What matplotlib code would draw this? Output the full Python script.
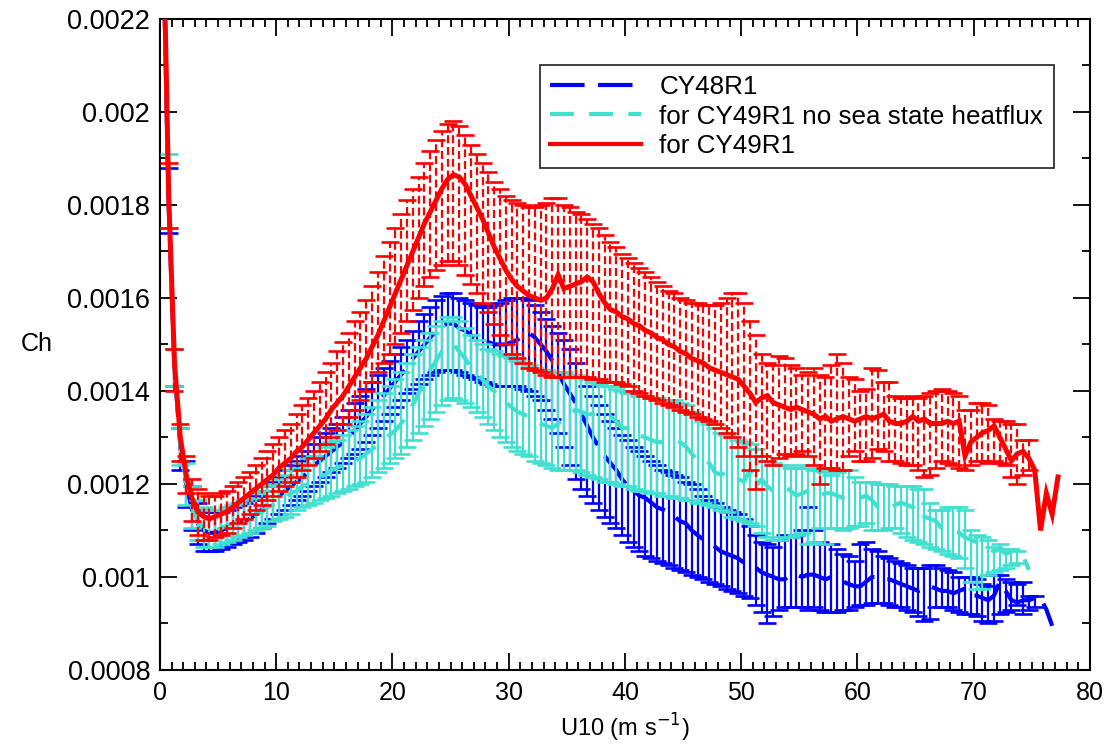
import numpy as np
import matplotlib
matplotlib.use("Agg")
import matplotlib.pyplot as plt
from matplotlib.lines import Line2D
from matplotlib.ticker import MultipleLocator, FuncFormatter

plt.rcParams['font.family'] = ['Liberation Sans', 'DejaVu Sans']

# Bin centres of 10 m wind speed (m/s), 0.5 m/s bins
u10 = 0.25 + 0.5 * np.arange(155)

# Heat exchange coefficient Ch, in units of 1e-4 (mean and lower/upper bar limits)
ch48 = [24.0, 18.0, 14.5, 12.8, 12.0, 11.45, 11.15, 11.0, 10.95, 10.95,
        11.0, 11.05, 11.1, 11.15, 11.2, 11.25, 11.35, 11.45, 11.55, 11.65,
        11.75, 11.85, 11.95, 12.05, 12.15, 12.25, 12.4, 12.5, 12.6, 12.7,
        12.8, 12.9, 13.0, 13.15, 13.3, 13.45, 13.6, 13.75, 13.9, 14.05,
        14.2, 14.35, 14.5, 14.7, 14.85, 15.0, 15.15, 15.3, 15.4, 15.45,
        15.45, 15.35, 15.3, 15.2, 15.1, 15.05, 15.05, 15.0, 15.0, 15.0,
        15.05, 15.1, 15.2, 15.25, 15.15, 15.0, 14.85, 14.65, 14.4, 14.15,
        13.95, 13.75, 13.5, 13.25, 13.0, 12.8, 12.6, 12.45, 12.3, 12.1,
        11.95, 11.85, 11.75, 11.7, 11.6, 11.5, 11.45, 11.4, 11.3, 11.2,
        11.15, 11.0, 10.9, 10.8, 10.7, 10.65, 10.55, 10.5, 10.45, 10.4,
        10.3, 10.25, 10.2, 10.1, 10.05, 10.0, 9.95, 9.95, 10.05, 10.05,
        10.0, 10.05, 10.05, 10.0, 9.95, 10.0, 9.95, 9.9, 9.85, 9.8,
        9.8, 9.9, 10.0, 10.0, 9.95, 9.95, 9.9, 9.85, 9.8, 9.75,
        9.7, 9.75, 9.8, 9.75, 9.7, 9.7, 9.65, 9.7, 9.75, 9.6,
        9.6, 9.55, 9.5, 9.6, 9.9, 9.7, 9.5, 9.45, 9.5, 9.5,
        9.55, 9.55, 9.3, 8.95]
ch48_lo = [23.0, 17.4, 14.1, 12.3, 11.5, 11.0, 10.7, 10.55, 10.55, 10.55,
           10.6, 10.65, 10.7, 10.75, 10.8, 10.85, 10.95, 11.05, 11.15, 11.25,
           11.35, 11.45, 11.55, 11.65, 11.75, 11.85, 11.95, 12.05, 12.15, 12.25,
           12.35, 12.45, 12.55, 12.65, 12.75, 12.9, 13.05, 13.2, 13.35, 13.5,
           13.65, 13.8, 13.95, 14.05, 14.15, 14.25, 14.35, 14.4, 14.45, 14.45,
           14.45, 14.4, 14.35, 14.3, 14.25, 14.2, 14.15, 14.1, 14.1, 14.1,
           14.1, 14.1, 14.05, 14.0, 13.9, 13.8, 13.6, 13.4, 13.1, 12.8,
           12.4, 12.1, 11.9, 11.75, 11.6, 11.45, 11.3, 11.15, 11.05, 10.9,
           10.75, 10.65, 10.55, 10.45, 10.4, 10.35, 10.3, 10.25, 10.2, 10.15,
           10.1, 10.05, 10.0, 9.95, 9.9, 9.85, 9.8, 9.75, 9.7, 9.65,
           9.6, 9.55, 9.4, 9.25, 9.0, 9.15, 9.3, 9.35, 9.35, 9.35,
           9.35, 9.3, 9.35, 9.3, 9.25, 9.25, 9.25, 9.3, 9.3, 9.35,
           9.4, 9.4, 9.45, 9.45, 9.45, 9.4, 9.35, 9.35, 9.3, 9.25,
           9.15, 9.05, 9.1, 9.35, 9.35, 9.35, 9.3, 9.25, 9.2, 9.2,
           9.15, 9.05, 9.0, 9.05, 9.2, 9.25, 9.3, 9.4, 9.2, 9.3,
           9.35, None, None, None]
ch48_hi = [25.0, 18.8, 14.9, 13.2, 12.5, 11.95, 11.6, 11.45, 11.4, 11.4,
           11.4, 11.45, 11.5, 11.55, 11.6, 11.65, 11.75, 11.85, 11.95, 12.05,
           12.15, 12.3, 12.4, 12.5, 12.6, 12.7, 12.85, 13.0, 13.1, 13.2,
           13.3, 13.45, 13.6, 13.75, 13.9, 14.05, 14.2, 14.35, 14.5, 14.65,
           14.8, 14.95, 15.1, 15.3, 15.5, 15.65, 15.8, 15.95, 16.05, 16.1,
           16.1, 16.0, 15.95, 15.9, 15.85, 15.8, 15.8, 15.85, 15.9, 15.95,
           16.0, 16.0, 16.0, 15.95, 15.85, 15.7, 15.55, 15.4, 15.25, 15.1,
           14.9, 14.6, 14.3, 14.1, 13.9, 13.7, 13.5, 13.35, 13.2, 13.05,
           12.95, 12.8, 12.7, 12.6, 12.5, 12.4, 12.3, 12.25, 12.2, 12.15,
           12.05, 12.0, 11.9, 11.75, 11.65, 11.6, 11.5, 11.45, 11.4, 11.35,
           11.25, 11.1, 10.9, 10.75, 10.7, 10.65, 10.8, 10.9, 10.85, 10.9,
           11.0, 11.5, 11.0, 10.75, 10.7, 10.7, 10.6, 10.5, 10.45, 10.35,
           10.7, 10.75, 10.6, 10.55, 10.45, 10.4, 10.35, 10.3, 10.25, 10.2,
           10.2, 10.2, 10.25, 10.25, 10.2, 10.15, 10.1, 10.0, 10.0, 10.0,
           9.95, 9.85, 9.8, 10.05, 10.05, 9.95, 9.9, 9.85, 9.9, 9.6,
           9.6, None, None, None]

ch49_nows = [24.0, 18.1, 14.55, 12.85, 12.05, 11.5, 11.2, 11.05, 11.0, 11.0,
             11.05, 11.1, 11.15, 11.2, 11.25, 11.3, 11.35, 11.4, 11.5, 11.55,
             11.65, 11.7, 11.8, 11.85, 11.95, 12.0, 12.05, 12.15, 12.2, 12.3,
             12.35, 12.4, 12.45, 12.5, 12.55, 12.65, 12.75, 12.85, 12.95, 13.05,
             13.15, 13.3, 13.5, 13.7, 13.95, 14.2, 14.45, 14.65, 14.85, 14.95,
             15.0, 14.85, 14.7, 14.5, 14.35, 14.25, 14.1, 14.0, 13.85, 13.75,
             13.65, 13.55, 13.5, 13.45, 13.4, 13.3, 13.25, 13.2, 13.3, 13.4,
             13.5, 13.6, 13.55, 13.5, 13.5, 13.45, 13.4, 13.45, 13.35, 13.2,
             13.2, 13.15, 13.05, 13.0, 12.95, 12.9, 12.9, 12.9, 12.85, 12.9,
             12.8, 12.65, 12.5, 12.55, 12.45, 12.25, 12.2, 12.25, 12.15, 12.1,
             12.05, 12.3, 11.95, 12.1, 11.95, 11.85, 11.9, 11.95, 11.85, 11.75,
             11.8, 11.85, 11.8, 11.75, 11.8, 11.8, 11.75, 11.7, 11.7, 11.7,
             11.7, 11.75, 11.65, 11.5, 11.55, 11.5, 11.55, 11.6, 11.55, 11.5,
             11.55, 11.3, 11.25, 11.2, 11.05, 11.0, 11.0, 10.95, 10.85, 10.8,
             10.75, 10.7, 10.6, 10.55, 10.6, 10.5, 10.55, 10.5, 10.45, 10.15]
ch49_nows_lo = [23.0, 17.5, 14.1, 12.4, 11.55, 11.05, 10.8, 10.65, 10.65, 10.65,
                10.7, 10.75, 10.8, 10.85, 10.9, 10.95, 11.0, 11.05, 11.1, 11.2,
                11.25, 11.3, 11.35, 11.45, 11.5, 11.55, 11.6, 11.65, 11.7, 11.75,
                11.8, 11.85, 11.9, 11.95, 12.0, 12.05, 12.15, 12.25, 12.35, 12.45,
                12.55, 12.65, 12.8, 12.95, 13.1, 13.25, 13.4, 13.55, 13.7, 13.8,
                13.85, 13.8, 13.75, 13.65, 13.55, 13.45, 13.3, 13.15, 13.0, 12.9,
                12.8, 12.7, 12.65, 12.6, 12.5, 12.45, 12.4, 12.35, 12.3, 12.3,
                12.3, 12.3, 12.25, 12.2, 12.15, 12.1, 12.05, 12.05, 12.0, 11.95,
                11.95, 11.9, 11.85, 11.85, 11.8, 11.8, 11.75, 11.75, 11.7, 11.7,
                11.65, 11.65, 11.6, 11.6, 11.55, 11.5, 11.45, 11.4, 11.3, 11.25,
                11.2, 11.15, 11.1, 10.95, 10.85, 10.8, 10.8, 10.85, 10.85, 10.9,
                10.95, 10.7, 10.75, 11.05, 10.7, 11.05, 11.05, 11.0, 11.05, 11.1,
                11.1, 11.15, 11.0, 11.0, 11.0, 11.05, 11.05, 10.95, 10.85, 10.8,
                10.75, 10.7, 10.65, 10.6, 10.55, 10.5, 10.45, 10.4, 10.2, 9.9,
                9.75, 9.75, 10.05, 10.1, 10.15, 10.2, 10.25, 10.3, None, None]
ch49_nows_hi = [25.0, 19.1, 14.9, 13.2, 12.45, 11.95, 11.65, 11.5, 11.45, 11.45,
                11.45, 11.5, 11.55, 11.6, 11.65, 11.7, 11.8, 11.85, 11.95, 12.0,
                12.1, 12.2, 12.3, 12.35, 12.45, 12.55, 12.6, 12.7, 12.8, 12.9,
                12.95, 13.05, 13.15, 13.25, 13.35, 13.5, 13.65, 13.8, 13.95, 14.1,
                14.25, 14.4, 14.6, 14.8, 14.95, 15.1, 15.25, 15.4, 15.5, 15.6,
                15.6, 15.5, 15.35, 15.2, 15.1, 15.0, 14.9, 14.85, 14.8, 14.75,
                14.7, 14.65, 14.6, 14.55, 14.5, 14.45, 14.45, 14.4, 14.4, 14.4,
                14.35, 14.35, 14.3, 14.25, 14.2, 14.15, 14.1, 14.1, 14.05, 14.0,
                13.95, 13.95, 13.9, 13.9, 13.85, 13.85, 13.8, 13.8, 13.8, 13.75,
                13.7, 13.55, 13.45, 13.35, 13.3, 13.2, 13.1, 13.05, 13.0, 12.95,
                12.9, 12.85, 12.75, 12.6, 12.5, 12.45, 12.4, 12.4, 12.35, 12.35,
                12.4, 12.35, 12.3, 12.3, 12.25, 12.2, 12.25, 12.3, 12.3, 12.15,
                12.05, 12.05, 12.05, 12.0, 12.0, 12.0, 11.95, 11.95, 11.95, 11.95,
                11.9, 11.9, 11.6, 11.45, 11.45, 11.5, 11.5, 11.5, 11.45, 11.0,
                10.9, 10.85, 10.8, 10.65, 10.7, 10.6, 10.6, 10.55, None, None]

ch49 = [24.5, 18.2, 14.6, 13.0, 12.2, 11.7, 11.4, 11.3, 11.25, 11.3,
        11.35, 11.4, 11.5, 11.6, 11.7, 11.8, 11.9, 12.0, 12.1, 12.2,
        12.35, 12.45, 12.55, 12.7, 12.8, 12.95, 13.1, 13.25, 13.4, 13.6,
        13.75, 13.9, 14.1, 14.3, 14.5, 14.7, 14.95, 15.2, 15.5, 15.8,
        16.1, 16.4, 16.7, 17.0, 17.3, 17.6, 17.85, 18.1, 18.35, 18.55,
        18.65, 18.6, 18.45, 18.2, 17.95, 17.7, 17.4, 17.1, 16.85, 16.6,
        16.4, 16.25, 16.15, 16.05, 16.0, 15.95, 16.0, 16.2, 16.5, 16.2,
        16.25, 16.3, 16.35, 16.45, 16.35, 16.1, 15.9, 15.75, 15.7, 15.6,
        15.55, 15.45, 15.4, 15.3, 15.25, 15.15, 15.1, 15.0, 14.95, 14.85,
        14.8, 14.7, 14.65, 14.6, 14.5, 14.45, 14.4, 14.35, 14.3, 14.25,
        14.1, 13.95, 13.75, 13.85, 13.9, 13.75, 13.7, 13.65, 13.6, 13.65,
        13.6, 13.55, 13.5, 13.4, 13.45, 13.35, 13.4, 13.45, 13.4, 13.35,
        13.4, 13.45, 13.4, 13.45, 13.5, 13.35, 13.3, 13.3, 13.35, 13.45,
        13.35, 13.4, 13.3, 13.3, 13.3, 13.35, 13.3, 13.35, 12.6, 12.9,
        13.0, 13.1, 13.15, 13.25, 13.0, 12.75, 12.5, 12.65, 12.7, 12.55,
        12.3, 11.0, 11.8, 11.35, 12.15]
ch49_lo = [23.0, 17.5, 14.0, 12.5, 11.8, 11.2, 10.9, 10.8, 10.8, 10.85,
           10.9, 10.95, 11.05, 11.15, 11.25, 11.35, 11.45, 11.55, 11.65, 11.75,
           11.85, 11.95, 12.05, 12.15, 12.3, 12.4, 12.55, 12.7, 12.85, 13.0,
           13.15, 13.3, 13.45, 13.6, 13.8, 14.0, 14.2, 14.4, 14.6, 14.8,
           15.0, 15.25, 15.5, 15.75, 16.0, 16.25, 16.45, 16.6, 16.7, 16.8,
           16.8, 16.7, 16.5, 16.3, 16.1, 15.9, 15.7, 15.45, 15.2, 15.0,
           14.8, 14.7, 14.6, 14.5, 14.45, 14.4, 14.35, 14.3, 14.3, 14.3,
           14.3, 14.3, 14.3, 14.3, 14.25, 14.25, 14.2, 14.2, 14.2, 14.15,
           14.1, 14.0, 13.95, 13.9, 13.85, 13.8, 13.75, 13.7, 13.65, 13.6,
           13.55, 13.5, 13.45, 13.4, 13.35, 13.3, 13.2, 13.1, 13.0, 12.8,
           12.6, 12.3, 11.9, 12.6, 12.5, 12.4, 12.55, 12.65, 12.6, 12.65,
           12.7, 12.6, 12.4, 12.0, 12.35, 12.35, 12.3, 12.3, 12.6, 12.7,
           12.5, 12.5, 12.55, 12.75, 12.7, 12.5, 12.5, 12.45, 12.4, 12.4,
           12.3, 12.15, 12.2, 12.35, 12.5, 12.45, 12.4, 12.35, 12.3, 12.4,
           12.5, 12.5, 12.45, 12.5, 12.45, 12.4, 12.15, 12.0, 12.2, 12.3,
           None, None, None, None, None]
ch49_hi = [26.0, 18.9, 14.9, 13.3, 12.6, 12.1, 11.9, 11.8, 11.75, 11.75,
           11.8, 11.85, 11.95, 12.05, 12.15, 12.25, 12.4, 12.55, 12.7, 12.85,
           13.0, 13.15, 13.3, 13.5, 13.7, 13.85, 14.0, 14.2, 14.4, 14.6,
           14.85, 15.05, 15.25, 15.5, 15.7, 15.95, 16.25, 16.55, 16.9, 17.2,
           17.5, 17.8, 18.1, 18.35, 18.6, 18.9, 19.15, 19.4, 19.6, 19.75,
           19.8, 19.7, 19.5, 19.3, 19.1, 18.9, 18.7, 18.5, 18.35, 18.2,
           18.1, 18.05, 18.0, 17.95, 17.95, 18.0, 18.05, 18.15, 18.15, 18.0,
           17.95, 17.85, 17.8, 17.7, 17.6, 17.5, 17.35, 17.2, 17.1, 16.95,
           16.85, 16.75, 16.65, 16.55, 16.45, 16.35, 16.25, 16.15, 16.1, 16.0,
           15.95, 15.9, 15.9, 15.85, 15.85, 15.85, 15.9, 16.0, 16.1, 16.1,
           15.9, 15.5, 15.2, 14.8, 14.6, 14.55, 14.75, 14.7, 14.55, 14.5,
           14.35, 14.4, 14.5, 14.35, 14.3, 14.55, 14.8, 14.6, 14.3, 14.25,
           14.0, 14.05, 14.5, 14.45, 14.2, 14.2, 13.9, 13.85, 13.85, 13.9,
           13.85, 13.9, 13.95, 14.0, 14.05, 14.0, 13.95, 13.9, 13.6, 13.6,
           13.75, 13.75, 13.7, 13.4, 13.35, 13.35, 13.3, 13.3, 12.95, 12.95,
           None, None, None, None, None]

series = [
    ("CY48R1", ch48, ch48_lo, ch48_hi, "#0000ff", (0, (8.3, 3.2)), "solid", 3.0),
    ("for CY49R1 no sea state heatflux", ch49_nows, ch49_nows_lo, ch49_nows_hi,
     "#40e0d0", (0, (5.7, 3.7)), "solid", 3.0),
    ("for CY49R1", ch49, ch49_lo, ch49_hi, "#ff0000", "solid", (0, (3.6, 1.7)), 3.6),
]

fig = plt.figure(figsize=(11.07, 7.44), dpi=100)
ax = fig.add_axes([0.1445, 0.0995, 0.8401, 0.875])

scale = 1e-4
z = 2
handles = []
for label, mean, lo, hi, color, lstyle, barstyle, lw in series:
    n = len(mean)
    x = u10[:n]
    y = np.asarray(mean, dtype=float) * scale
    lo_a = np.array([np.nan if v is None else v for v in lo]) * scale
    hi_a = np.array([np.nan if v is None else v for v in hi]) * scale
    m = np.isfinite(lo_a) & np.isfinite(hi_a)
    eb = ax.errorbar(x[m], y[m], yerr=[y[m] - lo_a[m], hi_a[m] - y[m]],
                     fmt='none', ecolor=color, elinewidth=1.6, capsize=6.8,
                     capthick=1.9, zorder=z)
    if barstyle != "solid":
        for col in eb.lines[2]:
            col.set_linestyle(barstyle)
    ax.plot(x, y, color=color, lw=lw, linestyle=lstyle, zorder=z + 1,
            solid_joinstyle='miter', dash_capstyle='butt')
    handles.append(Line2D([], [], color=color, lw=3.0, linestyle=lstyle))
    z += 2

ax.set_xlim(0, 80)
ax.set_ylim(0.0008, 0.0022)
ax.xaxis.set_major_locator(MultipleLocator(10))
ax.xaxis.set_minor_locator(MultipleLocator(1))
ax.yaxis.set_major_locator(MultipleLocator(0.0002))
ax.yaxis.set_minor_locator(MultipleLocator(0.0001))
ax.yaxis.set_major_formatter(FuncFormatter(lambda v, p: "%g" % round(v, 6)))
ax.tick_params(which='both', direction='in', top=True, right=True, width=1.3)
ax.tick_params(which='major', length=12)
ax.tick_params(which='minor', length=6)
ax.tick_params(axis='x', labelsize=18, pad=8)
ax.tick_params(axis='y', labelsize=19.5, pad=7)
for sp in ax.spines.values():
    sp.set_linewidth(1.5)

ax.set_xlabel("U10 (m s$^{-1}$)", fontsize=17, labelpad=5)
ax.set_ylabel("Ch", fontsize=18, rotation=0, ha='center', va='center')
ax.yaxis.set_label_coords(-0.132, 0.5)

leg = fig.legend(handles, [s[0] for s in series], loc='upper left',
                 bbox_to_anchor=(540 / 1107, 1 - 65 / 744), borderaxespad=0,
                 fontsize=18.7, handlelength=3.5, handletextpad=0.7,
                 labelspacing=0.2, borderpad=0.4, fancybox=False,
                 framealpha=1, edgecolor='#303030')
leg.get_frame().set_linewidth(1.3)

fig.savefig("out.png", dpi=100)
